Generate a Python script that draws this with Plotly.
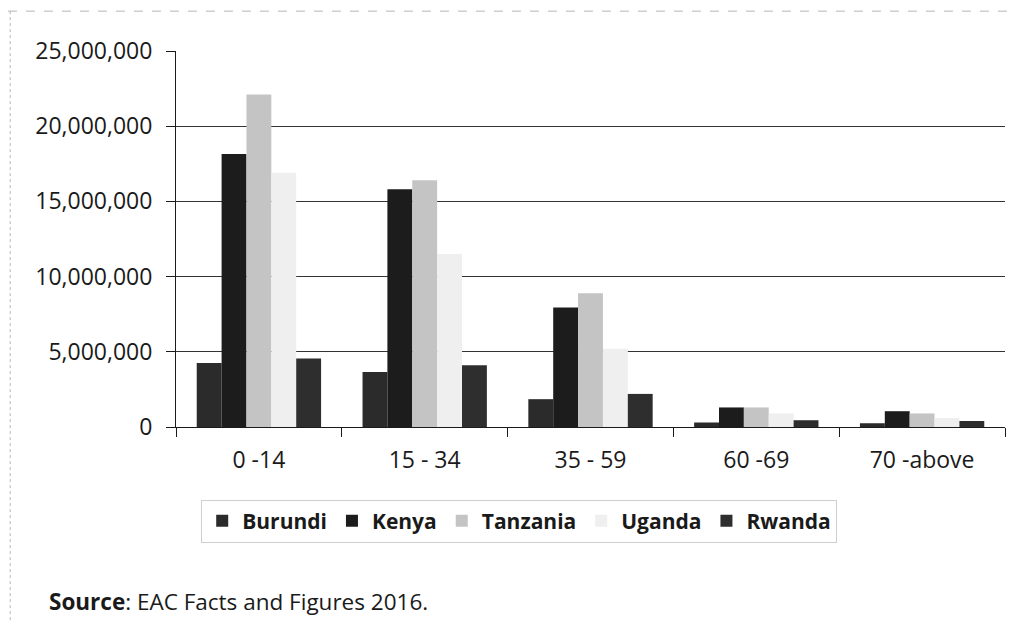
import plotly.graph_objects as go

categories = ["0 -14", "15 - 34", "35 - 59", "60 -69", "70 -above"]
burundi = [4250000, 3650000, 1850000, 300000, 250000]
kenya = [18150000, 15800000, 7950000, 1300000, 1050000]
tanzania = [22100000, 16400000, 8900000, 1300000, 900000]
uganda = [16900000, 11500000, 5200000, 900000, 600000]
rwanda = [4550000, 4100000, 2200000, 450000, 400000]

series = [
    ("Burundi", burundi, "#2b2b2b"),
    ("Kenya", kenya, "#1c1c1c"),
    ("Tanzania", tanzania, "#c4c4c4"),
    ("Uganda", uganda, "#efefef"),
    ("Rwanda", rwanda, "#2e2e2e"),
]

FONT = "Open Sans, Lato, sans-serif"

fig = go.Figure()
for name, vals, col in series:
    fig.add_trace(go.Bar(name=name, x=categories, y=vals,
                         marker=dict(color=col, line=dict(width=0))))

# page body has an 8px margin, so the figure is sized to the visible area
fig.update_layout(
    width=1007, height=616,
    margin=dict(l=168, r=10, t=43, b=197),
    paper_bgcolor="white", plot_bgcolor="white",
    barmode="group", bargap=0.25, bargroupgap=0,
    font=dict(family=FONT, size=23, color="#1a1a1a"),
    legend=dict(orientation="h", x=0.414, y=-0.25, xanchor="center", yanchor="middle",
                font=dict(family=FONT, size=21, color="#1a1a1a", weight="bold"),
                bordercolor="#cfcfcf", borderwidth=1, bgcolor="white",
                itemwidth=30, traceorder="normal"),
    showlegend=True,
)
fig.update_yaxes(range=[0, 25000000], dtick=5000000, tickformat=",",
                 showgrid=True, gridcolor="#333333", gridwidth=1,
                 showline=True, linecolor="#1a1a1a", linewidth=1,
                 ticks="outside", ticklen=9, tickcolor="#1a1a1a",
                 ticklabelstandoff=9, zeroline=False,
                 tickfont=dict(family=FONT, size=23, color="#1a1a1a"))
fig.update_xaxes(showline=True, linecolor="#1a1a1a", linewidth=1,
                 ticks="outside", ticklen=9, tickcolor="#1a1a1a", tickson="boundaries",
                 showgrid=False, ticklabelstandoff=12,
                 tickfont=dict(family=FONT, size=23, color="#1a1a1a"))

fig.add_annotation(xref="paper", yref="paper", x=-0.1556, y=-0.4628,
                   xanchor="left", yanchor="middle", showarrow=False,
                   text="<b>Source</b>: EAC Facts and Figures 2016.",
                   font=dict(family=FONT, size=22.5, color="#1a1a1a"))

# faint scan frame (top and left edges)
fig.add_shape(type="line", xref="paper", yref="paper", x0=-0.2027, x1=1.02, y0=1.106, y1=1.106,
              line=dict(color="#b5b5b5", width=1, dash="dash"))
fig.add_shape(type="line", xref="paper", yref="paper", x0=-0.2, x1=-0.2, y0=1.106, y1=-0.52,
              line=dict(color="#b5b5b5", width=1, dash="dot"))

fig.write_html("out.html")
